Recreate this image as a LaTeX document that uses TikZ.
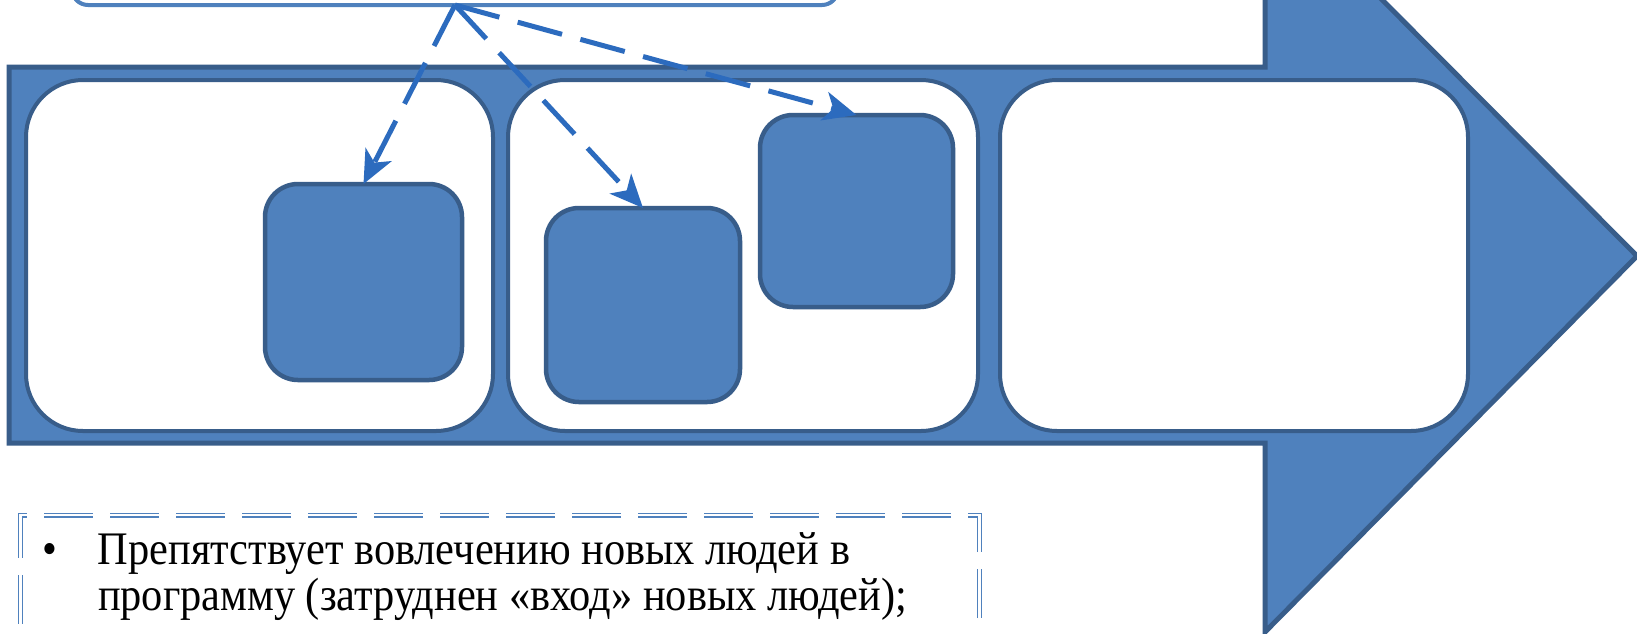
\documentclass[tikz,border=0pt]{standalone}
\usepackage{fontspec}
\setmainfont{Liberation Serif}
\usetikzlibrary{arrows.meta}
\definecolor{arrfill}{HTML}{4F81BD}
\definecolor{arrline}{HTML}{385D8A}
\definecolor{conn}{HTML}{2C6BBE}
\begin{document}
\begin{tikzpicture}[x=1pt,y=-1pt,
  stage/.style={draw=arrline, line width=4pt, fill=white, rounded corners=57pt,
    inner sep=0pt, outer sep=0pt},
  item/.style={draw=arrline, line width=4.5pt, fill=arrfill, rounded corners=33pt,
    inner sep=0pt, outer sep=0pt},
  topbox/.style={draw=arrfill, line width=4pt, fill=white, rounded corners=16pt,
    inner sep=0pt, outer sep=0pt},
  link/.style={draw=conn, line width=5pt, dash pattern=on 46pt off 19pt,
    -{Stealth[length=33pt,width=29pt,inset=9pt]}},
  notebox/.style={draw=arrfill, line width=1.2pt, double=white, double distance=2.6pt,
    dash pattern=on 49pt off 17pt, inner sep=0pt, outer sep=0pt},
  notetext/.style={inner sep=0pt, outer sep=0pt, font=\fontsize{42.4pt}{41.8pt}\selectfont}]
\useasboundingbox (0,0) rectangle (1637,633);
\clip (0,0) rectangle (1637,633);
\fill[white] (0,0) rectangle (1637,633);

% big process arrow
\draw[draw=arrline, fill=arrfill, line width=5pt, line join=miter]
  (9,67) -- (1265,67) -- (1265,-118) -- (1637,256) -- (1265,632) -- (1265,443) -- (9,443) -- cycle;

% stages
\node[stage, minimum width=467pt, minimum height=351pt] (s1) at (259.5,255.5) {};
\node[stage, minimum width=470pt, minimum height=351pt] (s2) at (743,255.5) {};
\node[stage, minimum width=468pt, minimum height=351pt] (s3) at (1234,255.5) {};

% items
\node[item, minimum width=197pt, minimum height=196pt] (A) at (363.5,282) {};
\node[item, minimum width=194pt, minimum height=194pt] (B) at (643,305) {};
\node[item, minimum width=193pt, minimum height=192pt] (C) at (856.5,211) {};

% top box
\node[topbox, minimum width=766pt, minimum height=65pt] (top) at (455,-27.5) {};

% connectors
\draw[link] (top.south) -- (A.north);
\draw[link] (top.south) -- (B.north);
\draw[link] (top.south) -- (C.north);

% note box
\node[notebox, minimum width=959pt, minimum height=200pt, anchor=north west] (note) at (20.5,515) {};
\node[notetext, anchor=base west] (txt) at (42,564)
  {\scalebox{1}[1.1]{\begin{tabular}[t]{@{}p{56pt}@{}l@{}}\textbullet & Препятствует вовлечению новых людей в\\
   & программу (затруднен «вход» новых людей);\end{tabular}}};
\end{tikzpicture}
\end{document}
